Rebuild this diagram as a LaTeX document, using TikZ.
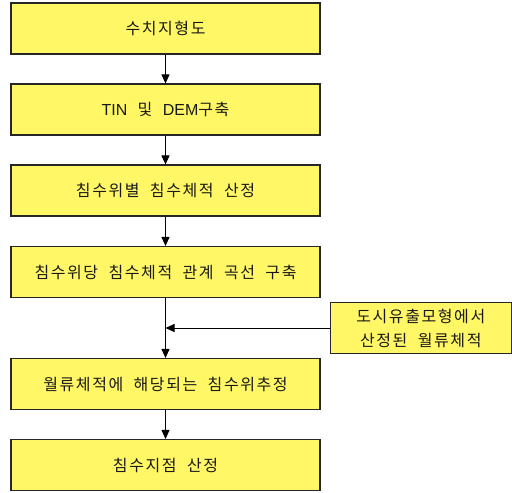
\documentclass[tikz,border=0pt]{standalone}
\usepackage{fontspec}
\setmainfont{Noto Sans CJK KR}[LetterSpace=10,WordSpace=2]
\newfontfamily\latfont{Liberation Sans}
\usetikzlibrary{arrows.meta}
\begin{document}
\begin{tikzpicture}[x=1pt,y=-1pt,
  box/.style={draw=black!85,line width=1.1pt,fill=yellow!60!white,minimum width=309pt,minimum height=51pt,inner sep=0pt,font=\fontsize{16}{19}\selectfont,text=black!90},
  sidebox/.style={box,minimum width=181pt,minimum height=50.5pt,align=center,font=\fontsize{16}{24}\selectfont},
  arr/.style={line width=0.9pt,-{Triangle[length=9pt,width=8pt]}}]
\useasboundingbox (0,0) rectangle (512,493);
\node[box] (b1) at (165.5,28.5) {수치지형도};
\node[box] (b2) at (165.5,109.5) {{\latfont TIN} 및 {\latfont DEM}구축};
\node[box] (b3) at (165.5,190.5) {침수위별 침수체적 산정};
\node[box] (b4) at (165.5,272) {침수위당 침수체적 관계 곡선 구축};
\node[box] (b5) at (165.5,384) {월류체적에 해당되는 침수위추정};
\node[box] (b6) at (165.5,465) {침수지점 산정};
\node[sidebox] (s) at (420.8,328) {도시유출모형에서\\산정된 월류체적};
\draw[arr] (b1) -- (b2);
\draw[arr] (b2) -- (b3);
\draw[arr] (b3) -- (b4);
\draw[arr] (b4) -- (b5);
\draw[arr] (s.west) -- (b4.south |- s.west);
\draw[arr] (b5) -- (b6);
\end{tikzpicture}
\end{document}
